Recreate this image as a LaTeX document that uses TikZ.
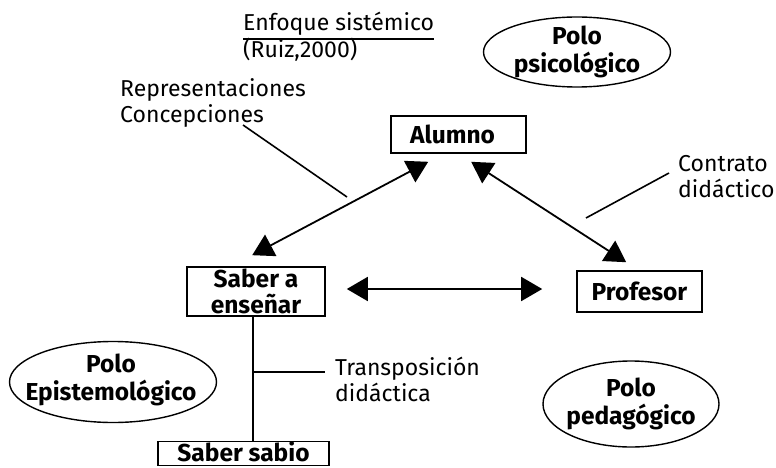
\documentclass[tikz,border=0pt]{standalone}
\usepackage{fontspec}
\setmainfont{Fira Sans}
\usetikzlibrary{arrows.meta,shapes.geometric,calc}
\newcommand{\fsz}{\fontsize{23}{26}\selectfont}
\newcommand{\bsz}{\fontsize{24.5}{26}\selectfont}
\begin{document}
\begin{tikzpicture}[x=1pt,y=-1pt,
  box/.style={draw,line width=1.6pt,inner sep=0,align=center,font=\bfseries\bsz},
  polotxt/.style={inner sep=0,align=center,font=\bfseries\fontsize{24.5}{28}\selectfont},
  poloshape/.style={line width=1.4pt},
  lbl/.style={inner sep=0,align=left,anchor=base west,font=\fsz},
  con/.style={line width=1.6pt},
  dbl/.style={line width=1.8pt,{Triangle[length=21pt,width=24pt]}-{Triangle[length=21pt,width=24pt]}}]
\useasboundingbox (0,0) rectangle (776,468);

% boxes
\node[box,minimum width=135,minimum height=37] (alu) at (458.5,134.5) {\hspace*{-12pt}Alumno};
\node[box,minimum width=138,minimum height=49] (sab) at (256,291.5) {Saber a\\enseñar};
\node[box,minimum width=125,minimum height=41] (prof) at (639.5,291.5) {Profesor};
\node[box,minimum width=171,minimum height=24,text height=17,text depth=1] (sabio) at (243.5,453.5) {Saber sabio};

% poles
\node[polotxt] (pps) at (577,52) {Polo\\psicológico};
\draw[poloshape] (pps.center) ellipse [x radius=93.5, y radius=35];
\node[polotxt] (pep) at (111,380) {Polo\\Epistemológico};
\draw[poloshape] (113,382) ellipse [x radius=103.5, y radius=40.5];
\node[polotxt] (ppd) at (631,404) {Polo\\pedagógico};
\draw[poloshape] (ppd.center) ellipse [x radius=88, y radius=43];

% labels
\node[lbl] (enf) at (243,31) {Enfoque sistémico};
\draw[line width=1.2pt] ([shift={(0,3)}]enf.south west) -- ([shift={(0,3)}]enf.south east);
\node[lbl] (ruiz) at (243,58) {(Ruiz,2000)};
\node[lbl] (rep) at (120,123) {Representaciones\\Concepciones};
\node[lbl] (cont) at (678,197) {Contrato\\didáctico};
\node[lbl] (trans) at (335,401) {Transposición\\didáctica};

% connectors
\coordinate (repstart) at (243,125);
\coordinate (repend) at (347,197);
\coordinate (contstart) at (669,173);
\coordinate (contend) at (586,218);
\draw[con] (repstart) -- (repend);
\draw[con] (contstart) -- (contend);

\draw[dbl] ([shift={(66,-11)}]sab.north west) -- ([shift={(38,8)}]alu.south west);
\draw[dbl] ([shift={(81,8)}]alu.south west) -- ([shift={(50,-8)}]prof.north west);
\draw[dbl] ([shift={(21,-2.5)}]sab.east) -- ([shift={(-34,-2.5)}]prof.west);

\coordinate (br) at (253,372);
\draw[con] (br |- sab.south) -- (br |- sabio.north);
\draw[con] (br) -- ([xshift=-10pt]trans.west |- br);
\end{tikzpicture}
\end{document}
